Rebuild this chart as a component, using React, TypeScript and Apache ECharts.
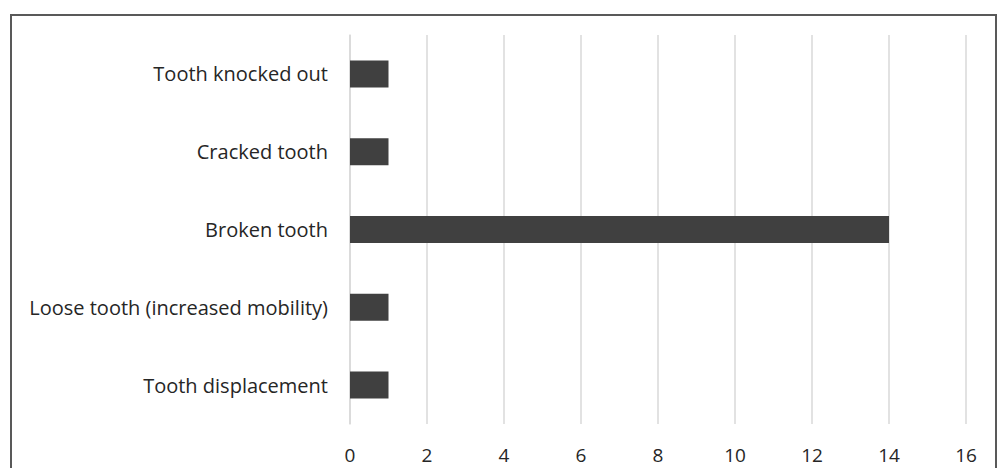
import React, { useEffect, useRef } from "react";
import * as echarts from "echarts";

const categories = [
  "Tooth knocked out",
  "Cracked tooth",
  "Broken tooth",
  "Loose tooth (increased mobility)",
  "Tooth displacement",
];
const counts = [1, 1, 14, 1, 1];
const xMin = 0;
const xMax = 16;
const xStep = 2;

export default function App() {
  const ref = useRef<HTMLDivElement>(null);

  useEffect(() => {
    if (!ref.current) return;
    const chart = echarts.init(ref.current, null, { renderer: "svg" });
    chart.setOption({
      animation: false,
      backgroundColor: "#ffffff",
      textStyle: { fontFamily: "Open Sans" },
      graphic: [
        {
          type: "rect",
          shape: { x: 11, y: 15, width: 985, height: 480 },
          style: { fill: "none", stroke: "#595959", lineWidth: 2 },
          silent: true,
        },
      ],
      grid: { left: 350, right: 37, top: 35, bottom: 44 },
      xAxis: {
        type: "value",
        min: xMin,
        max: xMax,
        interval: xStep,
        axisLine: { show: false },
        axisTick: { show: false },
        axisLabel: { color: "#262626", fontSize: 19, margin: 21 },
        splitLine: { show: true, lineStyle: { color: "#d9d9d9", width: 1.5 } },
      },
      yAxis: {
        type: "category",
        inverse: true,
        data: categories,
        axisLine: { show: true, lineStyle: { color: "#d9d9d9", width: 1.5 } },
        axisTick: { show: false },
        axisLabel: { color: "#262626", fontSize: 20, margin: 22 },
      },
      series: [
        {
          type: "bar",
          data: counts,
          barWidth: 27,
          itemStyle: { color: "#404040" },
        },
      ],
    });
    return () => chart.dispose();
  }, []);

  return (
    <div
      ref={ref}
      style={{ position: "absolute", left: 0, top: 0, width: 1003, height: 468 }}
    />
  );
}
